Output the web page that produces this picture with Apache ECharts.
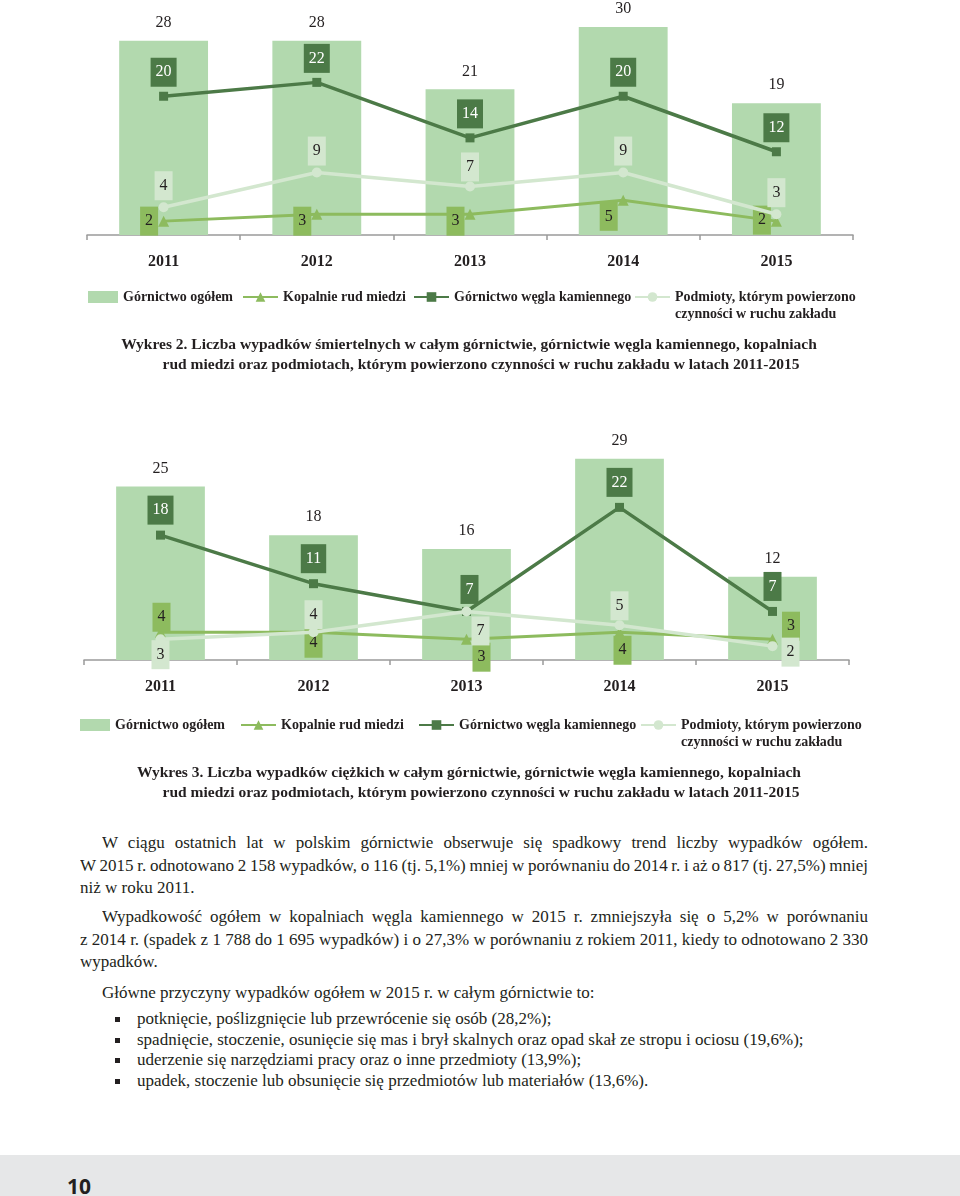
<!DOCTYPE html>
<html lang="pl"><head><meta charset="utf-8">
<script src="https://cdn.jsdelivr.net/npm/echarts@6/dist/echarts.min.js"></script>
<style>
html,body{margin:0;padding:0;background:#fff;}
#page{position:relative;width:960px;height:1196px;overflow:hidden;background:#fff;}
#chart{position:absolute;left:0;top:0;width:960px;height:810px;}
.ln{position:absolute;left:80px;width:788px;height:22px;line-height:22px;font-family:'Liberation Serif',serif;font-size:17px;color:#231f20;white-space:normal;overflow:hidden;}
.j{text-align:justify;text-align-last:justify;word-spacing:-3px;}
.ind{left:102px;width:766px;}
.bl{left:137px;width:760px;}
.sq{position:absolute;left:115px;width:5px;height:5px;background:#231f20;}
#foot{position:absolute;left:0;top:1155px;width:960px;height:41px;background:#e6e7e8;}
#pnum{position:absolute;left:67px;top:1173px;font-family:'Open Sans',sans-serif;font-weight:700;font-size:21px;line-height:26px;color:#231f20;}
</style></head>
<body><div id="page">
<div id="chart"></div>
<div class="ln ind j" style="top:832px">W ciągu ostatnich lat w polskim górnictwie obserwuje się spadkowy trend liczby wypadków ogółem.</div>
<div class="ln j" style="top:855px">W 2015 r. odnotowano 2 158 wypadków, o 116 (tj. 5,1%) mniej w porównaniu do 2014 r. i aż o 817 (tj. 27,5%) mniej</div>
<div class="ln" style="top:877px">niż w roku 2011.</div>
<div class="ln ind j" style="top:906px">Wypadkowość ogółem w kopalniach węgla kamiennego w 2015 r. zmniejszyła się o 5,2% w porównaniu</div>
<div class="ln j" style="top:929px">z 2014 r. (spadek z 1 788 do 1 695 wypadków) i o 27,3% w porównaniu z rokiem 2011, kiedy to odnotowano 2 330</div>
<div class="ln" style="top:951px">wypadków.</div>
<div class="ln ind" style="top:982px">Główne przyczyny wypadków ogółem w 2015 r. w całym górnictwie to:</div>
<div class="sq" style="top:1017px"></div><div class="ln bl" style="top:1008px">potknięcie, poślizgnięcie lub przewrócenie się osób (28,2%);</div>
<div class="sq" style="top:1038px"></div><div class="ln bl" style="top:1029px">spadnięcie, stoczenie, osunięcie się mas i brył skalnych oraz opad skał ze stropu i ociosu (19,6%);</div>
<div class="sq" style="top:1058px"></div><div class="ln bl" style="top:1049px">uderzenie się narzędziami pracy oraz o inne przedmioty (13,9%);</div>
<div class="sq" style="top:1079px"></div><div class="ln bl" style="top:1070px">upadek, stoczenie lub obsunięcie się przedmiotów lub materiałów (13,6%).</div>
<div id="foot"></div>
<div id="pnum">10</div>
</div>
<script>
// ---- data ----
const years = ['2011', '2012', '2013', '2014', '2015'];
const nameTotal = 'Górnictwo ogółem';
const nameCopper = 'Kopalnie rud miedzi';
const nameCoal = 'Górnictwo węgla kamiennego';
const nameContr = 'Podmioty, którym powierzono czynności w ruchu zakładu';
const fatalTotal = [28, 28, 21, 30, 19];
const fatalCopper = [2, 3, 3, 5, 2];
const fatalCoal = [20, 22, 14, 20, 12];
const fatalContractors = [4, 9, 7, 9, 3];
const seriousTotal = [25, 18, 16, 29, 12];
const seriousCopper = [4, 4, 3, 4, 3];
const seriousCoal = [18, 11, 7, 22, 7];
const seriousContractors = [3, 4, 7, 5, 2];
const caption2 = ['Wykres 2. Liczba wypadków śmiertelnych w całym górnictwie, górnictwie węgla kamiennego, kopalniach',
  'rud miedzi oraz podmiotach, którym powierzono czynności w ruchu zakładu w latach 2011-2015'];
const caption3 = ['Wykres 3. Liczba wypadków ciężkich w całym górnictwie, górnictwie węgla kamiennego, kopalniach',
  'rud miedzi oraz podmiotach, którym powierzono czynności w ruchu zakładu w latach 2011-2015'];

// ---- styles ----
const FONT = "'Liberation Serif', serif";
const C = { bar: '#b2d9ae', coal: '#4c7a47', copper: '#8dbb5e', contr: '#d3e7cf', axis: '#9a9a9a', text: '#231f20' };
// label placement per point: [position, distance, offset]
const place = {
  c1copper: [['left', 0, [0, 0]], ['left', 0, [0, 7]], ['left', 0, [0, 7]], ['left', 0, [0, 16]], ['left', 0, [0, -1]]],
  c1coal: [['top', 5, [0, 0]], ['top', 5, [0, 0]], ['top', 5, [0, 0]], ['top', 5, [0, 0]], ['top', 5, [0, 0]]],
  c1contr: [['top', 2, [0, 0]], ['top', 2, [0, 0]], ['top', 0, [0, 0]], ['top', 2, [0, 0]], ['top', 2, [0, 0]]],
  c2copper: [['top', -5, [1, 0]], ['bottom', -9, [0, 0]], ['bottom', -2, [15, 0]], ['bottom', -2, [3, 0]], ['right', 4, [0, -13]]],
  c2coal: [['top', 6, [0, 0]], ['top', 6, [0, 0]], ['top', 6, [3, 3]], ['top', 6, [0, 0]], ['top', 6, [0, 0]]],
  c2contr: [['bottom', -4, [0, 0]], ['top', -2, [0, 0]], ['bottom', 0, [14, 0]], ['top', 0, [0, 0]], ['right', 4, [0, 6]]]
};
function withLabels(values, pl) {
  return values.map((v, i) => ({ value: v, label: { position: pl[i][0], distance: pl[i][1], offset: pl[i][2] } }));
}
function boxLabel(bg, fg) {
  return { show: true, backgroundColor: bg, color: fg, padding: [4, 5, 4, 5], lineHeight: 21, fontSize: 16, fontFamily: FONT };
}
function makeSeries(k, total, copper, coal, contr, pc, pco, pct) {
  return [
    { type: 'bar', name: nameTotal, xAxisIndex: k, yAxisIndex: k, data: total, barWidth: '58%',
      itemStyle: { color: C.bar }, z: 1,
      label: { show: true, position: 'top', distance: 10, fontSize: 16, fontFamily: FONT, color: C.text } },
    { type: 'line', name: nameCopper, xAxisIndex: k, yAxisIndex: k, data: withLabels(copper, pc),
      symbol: 'triangle', symbolSize: 11, itemStyle: { color: C.copper }, lineStyle: { color: C.copper, width: 3 },
      label: boxLabel(C.copper, C.text), z: 3 },
    { type: 'line', name: nameCoal, xAxisIndex: k, yAxisIndex: k, data: withLabels(coal, pco),
      symbol: 'rect', symbolSize: 9, itemStyle: { color: C.coal }, lineStyle: { color: C.coal, width: 3.5 },
      label: boxLabel(C.coal, '#ffffff'), z: 4 },
    { type: 'line', name: nameContr, xAxisIndex: k, yAxisIndex: k, data: withLabels(contr, pct),
      symbol: 'circle', symbolSize: 10, itemStyle: { color: C.contr }, lineStyle: { color: C.contr, width: 3.5 },
      label: boxLabel(C.contr, C.text), z: 5 }
  ];
}
function xAxis(k, margin) {
  return { type: 'category', gridIndex: k, data: years, boundaryGap: true,
    axisLine: { lineStyle: { color: C.axis, width: 1.5 } },
    axisTick: { show: true, length: 5, lineStyle: { color: C.axis, width: 1.5 } },
    axisLabel: { margin: margin, fontSize: 16, fontWeight: 'bold', fontFamily: FONT, color: C.text } };
}
function yAxis(k) {
  return { type: 'value', gridIndex: k, min: 0, max: 32, show: false, splitLine: { show: false } };
}
const legendText = { fontFamily: FONT, fontSize: 14, fontWeight: 'bold', color: C.text, lineHeight: 17 };
function legends(top, lefts) {
  const names = [nameTotal, nameCopper, nameCoal, nameContr];
  return names.map((n, i) => ({
    data: [n], left: lefts[i], top: i === 3 ? top - 17 : top, padding: 0, selectedMode: false,
    itemWidth: i === 0 ? 30 : 35, itemHeight: 12, icon: i === 0 ? 'rect' : undefined,
    formatter: nm => nm === nameContr ? ' \nPodmioty, którym powierzono\nczynności w ruchu zakładu' : nm,
    textStyle: legendText
  }));
}
function captionText(lines, y, xs) {
  return lines.map((t, i) => ({ type: 'text', silent: true,
    style: { text: t, x: xs[i], y: y + i * 20, align: 'center', verticalAlign: 'middle',
      fontFamily: FONT, fontSize: 15.5, fontWeight: 'bold', fill: C.text } }));
}

const chart = echarts.init(document.getElementById('chart'), null, { renderer: 'canvas' });
chart.setOption({
  animation: false,
  backgroundColor: '#ffffff',
  grid: [
    { left: 87, width: 766, top: 13, height: 222 },
    { left: 84, width: 765, top: 438, height: 222 }
  ],
  xAxis: [xAxis(0, 19), xAxis(1, 19)],
  yAxis: [yAxis(0), yAxis(1)],
  legend: legends(288.5, [88, 242, 413, 634]).concat(legends(716.5, [80, 240, 418, 640])),
  graphic: captionText(caption2, 345, [469, 481]).concat(captionText(caption3, 773, [469, 481])),
  series: makeSeries(0, fatalTotal, fatalCopper, fatalCoal, fatalContractors, place.c1copper, place.c1coal, place.c1contr)
    .concat(makeSeries(1, seriousTotal, seriousCopper, seriousCoal, seriousContractors, place.c2copper, place.c2coal, place.c2contr))
});
</script>
</body></html>
